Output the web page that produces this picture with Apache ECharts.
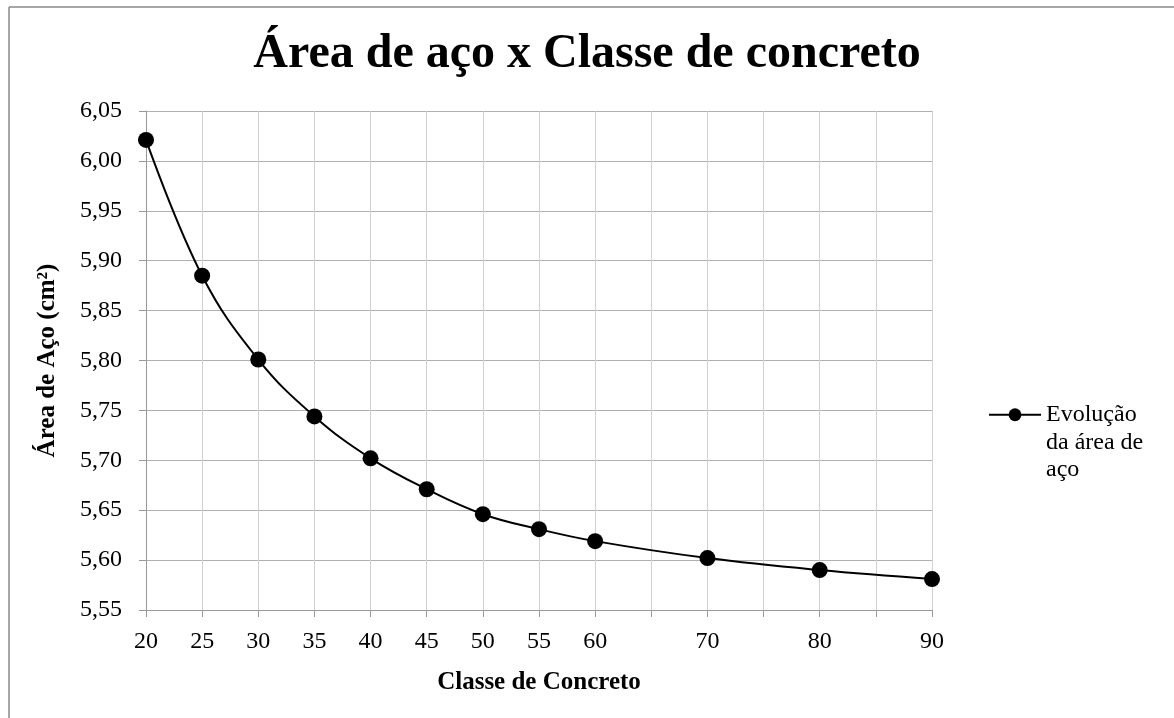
<!DOCTYPE html>
<html>
<head>
<meta charset="utf-8">
<script src="https://cdn.jsdelivr.net/npm/echarts@6/dist/echarts.min.js"></script>
<style>
  html, body { margin: 0; padding: 0; background: #fff; }
  #main { width: 1174px; height: 718px; }
</style>
</head>
<body>
<div id="main"></div>
<script>
// dados
var classes = [20, 25, 30, 35, 40, 45, 50, 55, 60, 70, 80, 90];
var areaAco = [6.021, 5.885, 5.801, 5.744, 5.702, 5.671, 5.646, 5.631, 5.619, 5.602, 5.590, 5.581];
var rotulosX = [20, 25, 30, 35, 40, 45, 50, 55, 60, 70, 80, 90];
var nomeSerie = 'Evolução\nda área de\naço';

var fonte = '"Liberation Serif", "Times New Roman", serif';
var myChart = echarts.init(document.getElementById('main'));

option = {
    backgroundColor: '#fff',
    animation: false,
    title: {
        text: 'Área de aço x Classe de concreto',
        left: 'center',
        top: 26,
        textStyle: { fontFamily: fonte, fontSize: 48, fontWeight: 'bold', color: '#000' }
    },
    legend: {
        left: 983,
        top: 341,
        itemWidth: 52,
        itemHeight: 16,
        data: [nomeSerie],
        // linhas vazias para o ícone ficar na altura da primeira linha
        formatter: function (name) { return '\n\n' + name; },
        textStyle: { fontFamily: fonte, fontSize: 24, color: '#000', lineHeight: 27.5 }
    },
    grid: { left: 146, top: 111, width: 786, height: 499 },
    xAxis: {
        type: 'value',
        min: 20,
        max: 90,
        interval: 5,
        name: 'Classe de Concreto',
        nameLocation: 'middle',
        nameGap: 60,
        nameTextStyle: { fontFamily: fonte, fontSize: 25, fontWeight: 'bold', color: '#000' },
        axisLine: { lineStyle: { color: '#999', width: 1 } },
        axisTick: { show: true, length: 7, lineStyle: { color: '#999' } },
        axisLabel: {
            margin: 20,
            fontFamily: fonte, fontSize: 24, color: '#000',
            formatter: function (v) { return rotulosX.indexOf(v) >= 0 ? String(v) : ''; }
        },
        splitLine: { show: true, lineStyle: { color: '#d0d0d0', width: 1 } }
    },
    yAxis: {
        type: 'value',
        min: 5.55,
        max: 6.05,
        interval: 0.05,
        name: 'Área de Aço (cm²)',
        nameLocation: 'middle',
        nameGap: 86,
        nameTextStyle: { fontFamily: fonte, fontSize: 25, fontWeight: 'bold', color: '#000' },
        axisLine: { show: true, lineStyle: { color: '#999', width: 1 } },
        axisTick: { show: true, length: 7, lineStyle: { color: '#999' } },
        axisLabel: {
            margin: 24,
            fontFamily: fonte, fontSize: 24, color: '#000',
            formatter: function (v) { return v.toFixed(2).replace('.', ','); }
        },
        splitLine: { show: true, lineStyle: { color: '#b0b0b0', width: 1 } }
    },
    series: [
        {
            name: nomeSerie,
            type: 'line',
            smooth: 0.4,
            symbol: 'circle',
            symbolSize: 16,
            lineStyle: { color: '#000', width: 2 },
            itemStyle: { color: '#000' },
            data: classes.map(function (c, i) { return [c, areaAco[i]]; })
        }
    ],
    graphic: [
        { type: 'line', shape: { x1: 9, y1: 7, x2: 1174, y2: 7 }, style: { stroke: '#888', lineWidth: 1.5 } },
        { type: 'line', shape: { x1: 9, y1: 7, x2: 9, y2: 718 }, style: { stroke: '#888', lineWidth: 1.5 } }
    ]
};
myChart.setOption(option);
</script>
</body>
</html>
